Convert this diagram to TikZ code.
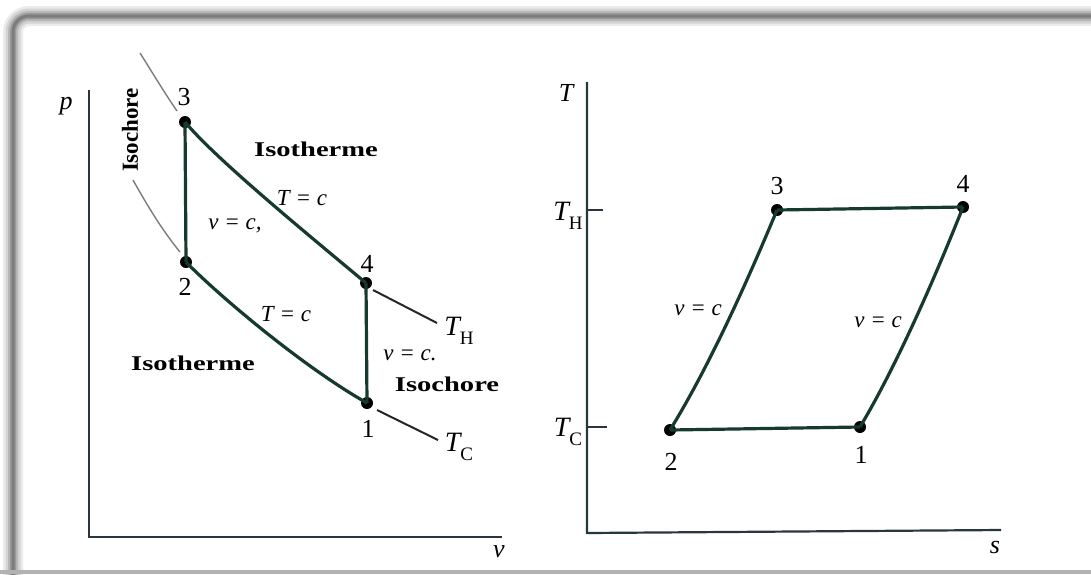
\documentclass[tikz,border=0pt]{standalone}
\usepackage{fontspec}
\setmainfont{Liberation Serif}
\definecolor{cyc}{RGB}{22,58,44}
\definecolor{axc}{RGB}{40,55,60}
\definecolor{extg}{RGB}{120,125,130}
\tikzset{
  cycline/.style={draw=cyc, line width=3.2pt},
  axline/.style={draw=axc, line width=2.2pt},
  extline/.style={draw=extg, line width=1.4pt},
  tline/.style={draw=black!85, line width=2pt},
  dot/.style={circle, fill=black, inner sep=0pt, minimum size=12pt},
  dig/.style={font=\fontsize{26}{28}\selectfont, inner sep=0pt},
  lab/.style={font=\fontsize{23}{25}\selectfont\itshape, inner sep=0pt},
  axlab/.style={font=\fontsize{26}{28}\selectfont\itshape, inner sep=0pt},
  tlab/.style={font=\fontsize{28}{30}\selectfont\itshape, inner sep=0pt},
  boldlab/.style={font=\fontsize{21}{23}\selectfont\bfseries, inner sep=0pt},
}
\newcommand{\wide}[1]{\scalebox{1.36}[1]{#1}}
\newcommand{\Tsub}[1]{\textit{T}\raisebox{-0.3em}{\upshape\fontsize{19}{20}\selectfont #1}}
\begin{document}
\begin{tikzpicture}[x=1pt,y=-1pt]
\useasboundingbox (0,0) rectangle (1091,574);
\fill[white] (0,0) rectangle (1091,574);
% frame shadow
\foreach \w/\o in {20/0.08,15/0.10,10/0.13,6/0.16,3/0.18}{
  \draw[black, opacity=\o, line width=\w pt, rounded corners=16pt] (13,1200) -- (13,16) -- (1300,16);
}
\fill[black!30] (0,570) rectangle (1091,574);

% ---------------- left diagram (p-v) ----------------
\coordinate (pTop) at (89,90);
\coordinate (pO) at (89,537);
\coordinate (vEnd) at (502,537);
\draw[axline] (pTop) -- (pO) -- (vEnd);
\node[axlab] (plab) at (66,106) {p};
\node[axlab] (vlab) at (499,552) {v};

\node[dot] (L3) at (185,122) {};
\node[dot] (L2) at (186,262) {};
\node[dot] (L4) at (366,283) {};
\node[dot] (L1) at (367,403) {};

% isotherm extensions
\coordinate (e3a) at (140,53);
\coordinate (e3b) at (177,111);
\coordinate (e2a) at (133,180);
\coordinate (e2b) at (180,252);
\draw[extline] (e3a) .. controls (152,72) and (164,92) .. (e3b);
\draw[extline] (e2a) .. controls (147,205) and (162,230) .. (e2b);
\coordinate (e4a) at (373,290);
\coordinate (e4b) at (437,323);
\coordinate (e1a) at (377,410);
\coordinate (e1b) at (438,440);
\draw[tline] (e4a) -- (e4b);
\draw[tline] (e1a) -- (e1b);

% cycle
\draw[cycline] (L3.center) .. controls (215,158) and (300,228) .. (L4.center);
\draw[cycline] (L2.center) .. controls (215,292) and (300,365) .. (L1.center);
\draw[cycline] (L3.center) -- (L2.center);
\draw[cycline] (L4.center) -- (L1.center);

\node[dig] (n3) at (184,97) {3};
\node[dig] (n4) at (367,264) {4};
\node[dig] (n2) at (185,287) {2};
\node[dig] (n1) at (368,429) {1};
\node[lab] (t1) at (302,198) {T = c};
\node[lab] (t2) at (235,226) {v = c,};
\node[lab] (t3) at (286,314) {T = c};
\node[lab] (t4) at (410,355) {v = c.};
\node[tlab] (TH) at (459,331) {\Tsub{H}};
\node[tlab] (TC) at (459,447) {\Tsub{C}};
\node[boldlab] (iso1) at (316,149) {\wide{Isotherme}};
\node[boldlab] (iso2) at (193,363) {\wide{Isotherme}};
\node[boldlab] (isc2) at (447,384) {\wide{Isochore}};
\node[boldlab, rotate=90, font=\fontsize{23}{25}\selectfont\bfseries] (isc1) at (130,130) {Isochore};

% ---------------- right diagram (T-s) ----------------
\coordinate (TTop) at (587,82);
\coordinate (TO) at (587,533);
\coordinate (sEnd) at (1001,530);
\draw[axline] (TTop) -- (TO) -- (sEnd);
\node[axlab] (Tlab) at (566,93) {T};
\node[axlab] (slab) at (995,547) {s};
\coordinate (tkH) at (587,210);
\coordinate (tkHe) at (603,210);
\coordinate (tkC) at (587,427);
\coordinate (tkCe) at (607,427);
\draw[axc, line width=1.4pt] (tkH) -- (tkHe);
\draw[axc, line width=1.4pt] (tkC) -- (tkCe);
\node[tlab] (THr) at (568,216) {\Tsub{H}};
\node[tlab] (TCr) at (568,432) {\Tsub{C}};

\node[dot] (R3) at (777,210) {};
\node[dot] (R4) at (963,207) {};
\node[dot] (R2) at (670,430) {};
\node[dot] (R1) at (860,427) {};
\draw[cycline] (R3.center) -- (R4.center);
\draw[cycline] (R2.center) -- (R1.center);
\draw[cycline] (R2.center) .. controls (712,362) and (752,270) .. (R3.center);
\draw[cycline] (R1.center) .. controls (900,360) and (940,265) .. (R4.center);

\node[dig] (m3) at (777,186) {3};
\node[dig] (m4) at (963,184) {4};
\node[dig] (m2) at (671,462) {2};
\node[dig] (m1) at (861,455) {1};
\node[lab] (r1) at (698,310) {v = c};
\node[lab] (r2) at (878,322) {v = c};
\end{tikzpicture}
\end{document}
